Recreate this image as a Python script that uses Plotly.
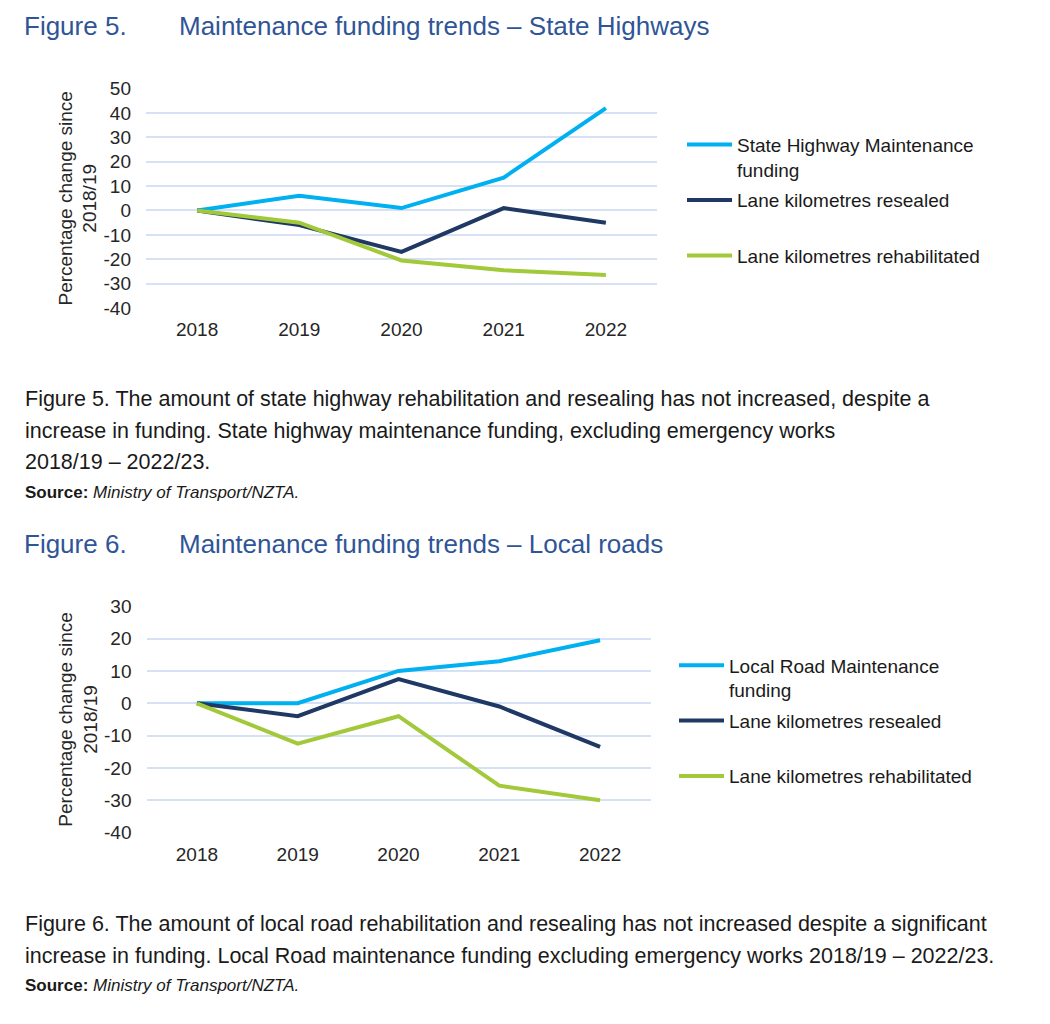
import plotly.graph_objects as go

years = ["2018", "2019", "2020", "2021", "2022"]

# Figure 5 - State Highways
sh_funding = [0, 6, 1, 13.5, 42]
sh_resealed = [0, -6, -17, 1, -5]
sh_rehab = [0, -5, -20.5, -24.5, -26.5]
sh_ticks = [-40, -30, -20, -10, 0, 10, 20, 30, 40, 50]
sh_ticklabels = ["-40", "-30", "-20", "-10", "0", "10", "20", "30", "40", "50"]

# Figure 6 - Local roads
lr_funding = [0, 0, 10, 13, 19.5]
lr_resealed = [0, -4, 7.5, -1, -13.5]
lr_rehab = [0, -12.5, -4, -25.5, -30]
lr_ticks = [-40, -30, -20, -10, 0, 10, 20, 30]
lr_ticklabels = ["-40", "-30", "-20", "-10", "0", "10", "20", "30"]

names_top = ["State Highway Maintenance<br>funding", "Lane kilometres resealed<br> ", "Lane kilometres rehabilitated"]
names_bot = ["Local Road Maintenance<br>funding", "Lane kilometres resealed<br> ", "Lane kilometres rehabilitated"]

colors = ["#00B0F0", "#1F3864", "#A2C93A"]

W, H = 1034, 1008
XOFF = 8
YOFF, YSCALE = 18.4, 0.978

def px(x):
    return (x - XOFF) / W

def py(y):
    return 1 - ((y - YOFF) / YSCALE) / H

fig = go.Figure()

for i, (vals, name) in enumerate(zip([sh_funding, sh_resealed, sh_rehab], names_top)):
    fig.add_trace(go.Scatter(x=years, y=vals, name=name, mode="lines",
                             line=dict(color=colors[i], width=4),
                             xaxis="x", yaxis="y", legend="legend",
                             legendgroup="t%d" % i))
for i, (vals, name) in enumerate(zip([lr_funding, lr_resealed, lr_rehab], names_bot)):
    fig.add_trace(go.Scatter(x=years, y=vals, name=name, mode="lines",
                             line=dict(color=colors[i], width=4),
                             xaxis="x2", yaxis="y2", legend="legend2",
                             legendgroup="b%d" % i))

axis_font = dict(family="Liberation Sans, Arial", size=19, color="#262626")
grid_col = "#D6E1F6"

xcommon = dict(type="category", range=[-0.5, 4.5], showgrid=False, showline=False,
               zeroline=False, ticks="", tickfont=axis_font, ticklabelstandoff=8)
ycommon = dict(showgrid=True, gridcolor=grid_col, gridwidth=1.5, zeroline=False,
               showline=False, ticks="", tickfont=axis_font, ticklabelstandoff=14,
               title=dict(text="Percentage change since<br>2018/19", font=axis_font, standoff=1))

legend_font = dict(family="Liberation Sans, Arial", size=19, color="#1a1a1a")

fig.update_layout(
    width=W, height=H,
    margin=dict(l=0, r=0, t=0, b=0),
    paper_bgcolor="white", plot_bgcolor="white",
    xaxis=dict(xcommon, domain=[px(146), px(657)], anchor="y"),
    yaxis=dict(ycommon, domain=[py(308), py(89)], range=[-40, 50], anchor="x",
               tickvals=sh_ticks, ticktext=sh_ticklabels),
    xaxis2=dict(xcommon, domain=[px(146.5), px(650.5)], anchor="y2"),
    yaxis2=dict(ycommon, domain=[py(832), py(606)], range=[-40, 30], anchor="x2",
                tickvals=lr_ticks, ticktext=lr_ticklabels),
    legend=dict(x=px(682), y=py(126), xanchor="left", yanchor="top",
                font=legend_font, itemwidth=45, valign="top",
                tracegroupgap=3, bgcolor="rgba(0,0,0,0)"),
    legend2=dict(x=px(674), y=py(646), xanchor="left", yanchor="top",
                 font=legend_font, itemwidth=45, valign="top",
                 tracegroupgap=3, bgcolor="rgba(0,0,0,0)"),
)

title_font = dict(family="Liberation Sans, Arial", size=26, color="#2F5597")
cap_font = dict(family="Liberation Sans, Arial", size=21.5, color="#1a1a1a")
src_font = dict(family="Liberation Sans, Arial", size=17, color="#1a1a1a")

def ann(text, x, y, font):
    fig.add_annotation(text=text, x=px(x), y=py(y), xref="paper", yref="paper",
                       xanchor="left", yanchor="middle", showarrow=False, font=font)

ann("Figure 5.", 22, 26, title_font)
ann("Maintenance funding trends \u2013 State Highways", 177, 26, title_font)
ann("Figure 5. The amount of state highway rehabilitation and resealing has not increased, despite a", 23, 399, cap_font)
ann("increase in funding. State highway maintenance funding, excluding emergency works", 23, 431, cap_font)
ann("2018/19 \u2013 2022/23.", 23, 462, cap_font)
ann("<b>Source:</b> <i>Ministry of Transport/NZTA.</i>", 23, 492, src_font)

ann("Figure 6.", 22, 544, title_font)
ann("Maintenance funding trends \u2013 Local roads", 177, 544, title_font)
ann("Figure 6. The amount of local road rehabilitation and resealing has not increased despite a significant", 23, 923, cap_font)
ann("increase in funding. Local Road maintenance funding excluding emergency works 2018/19 \u2013 2022/23.", 23, 955, cap_font)
ann("<b>Source:</b> <i>Ministry of Transport/NZTA.</i>", 23, 985, src_font)

fig.write_html("out.html")
